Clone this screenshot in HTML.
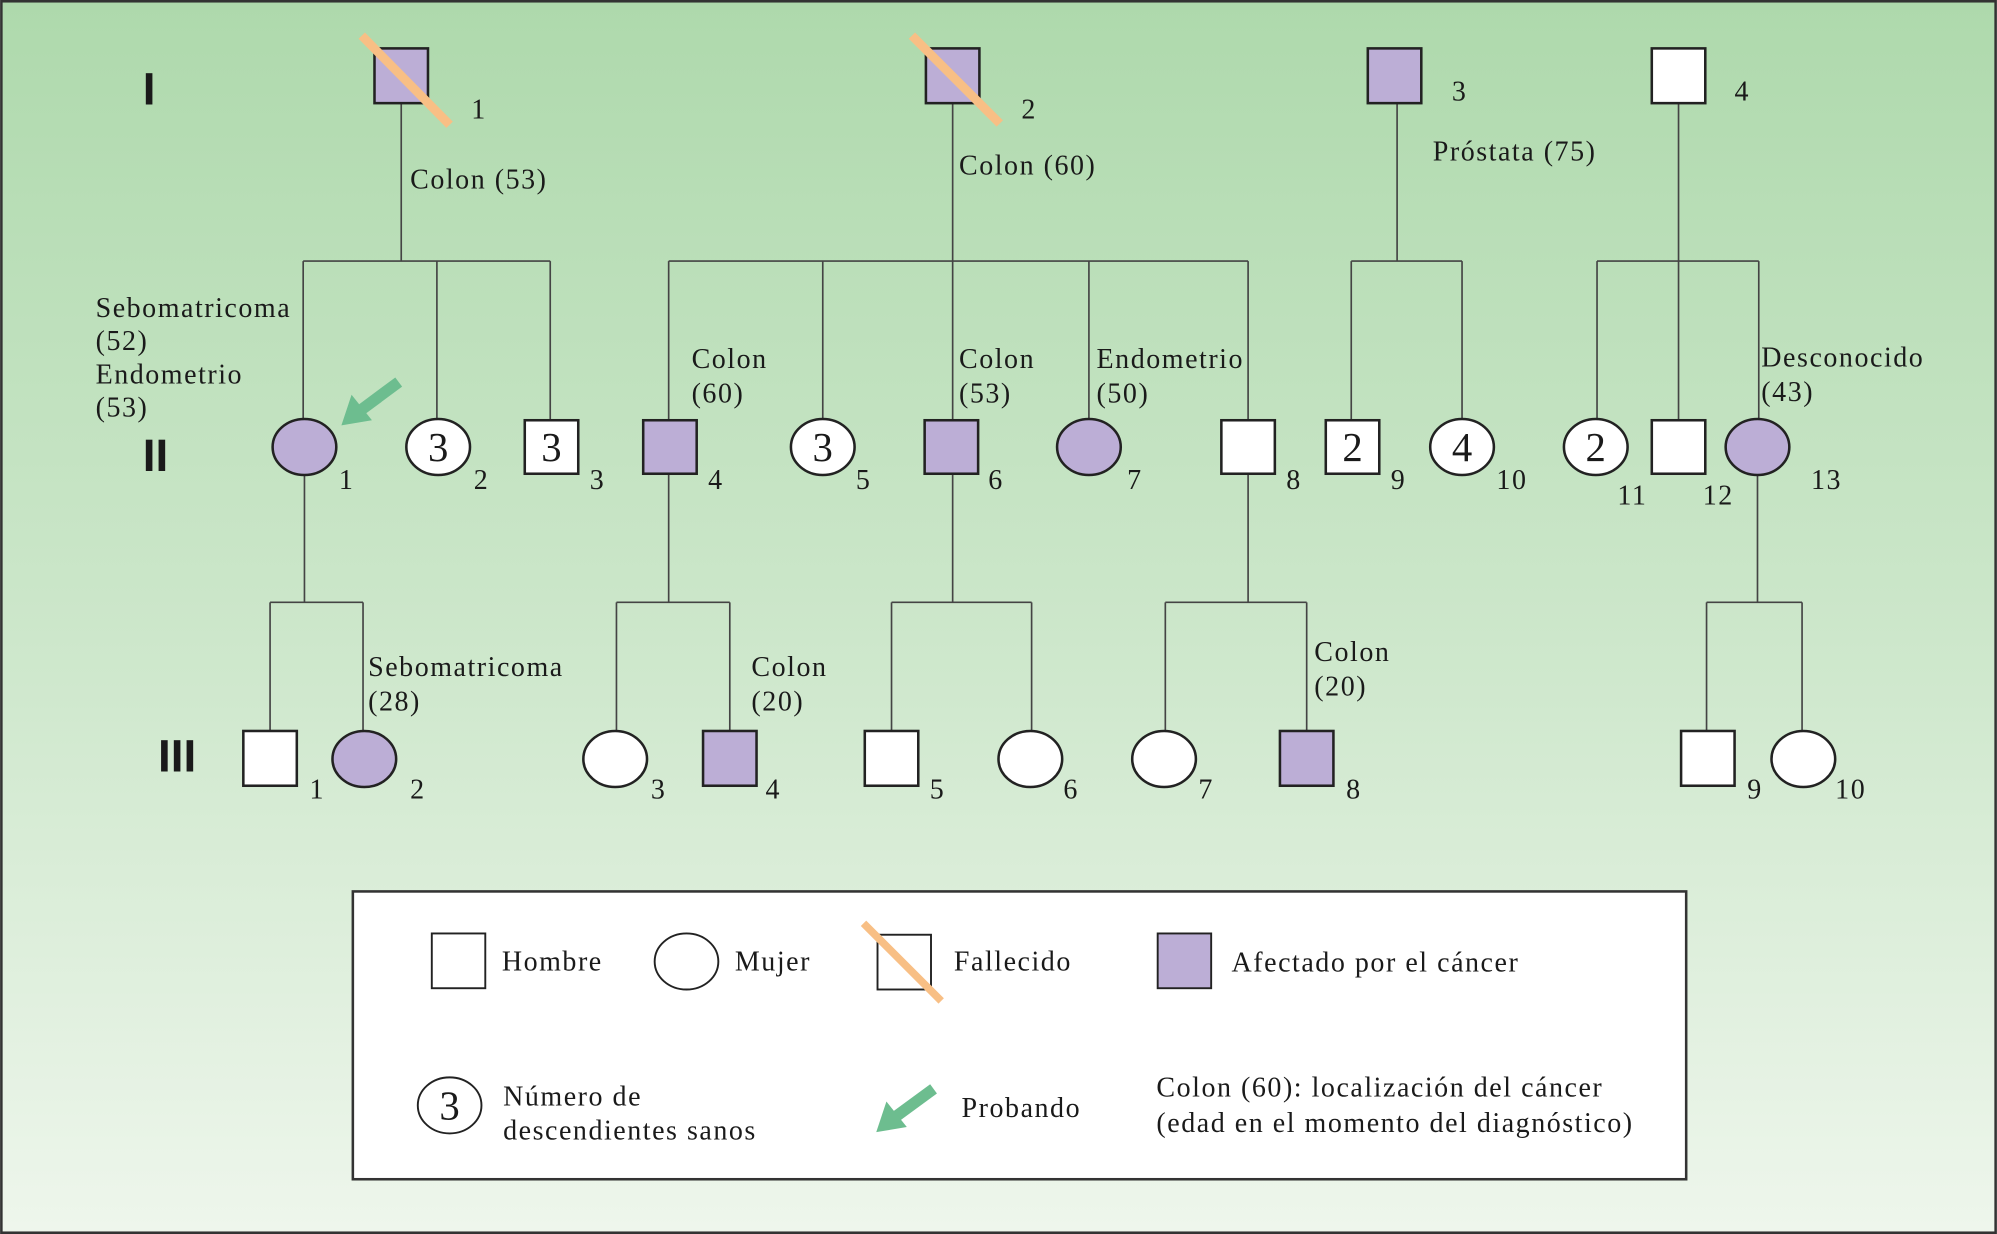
<!DOCTYPE html>
<html><head><meta charset="utf-8"><style>
html,body{margin:0;padding:0;width:1997px;height:1234px;overflow:hidden;background:#fff}
svg{display:block}
text{font-family:"Liberation Serif",serif;font-size:22px;fill:#1a1a1a;letter-spacing:1.2px}
.big{font-size:32px;letter-spacing:0}
.rom{font-family:"Liberation Sans",sans-serif;font-weight:bold;font-size:36px;letter-spacing:0}
</style></head><body>
<svg width="1997" height="1234" viewBox="0 0 1568 969" xmlns="http://www.w3.org/2000/svg">
<defs><linearGradient id="g" x1="0" y1="0" x2="0" y2="1">
<stop offset="0" stop-color="#aed9ac"/><stop offset="0.55" stop-color="#cfe8cd"/><stop offset="1" stop-color="#eef6ec"/></linearGradient></defs>
<rect x="1" y="1" width="1566" height="967" fill="url(#g)" stroke="#333" stroke-width="2"/>
<g stroke="#444" stroke-width="1.3" fill="none">
<path d="M315 81V205M238 205H432M238 205V330M343 205V330M432 205V330"/>
<path d="M748 81V205M525 205H980M525 205V330M646 205V330M748 205V330M855 205V330M980 205V330"/>
<path d="M1097 81V205M1061 205H1148M1061 205V330M1148 205V330"/>
<path d="M1318 81V205M1254 205H1381M1254 205V330M1318 205V330M1381 205V330"/>
<path d="M239 373V473M212 473H285M212 473V574M285 473V575"/>
<path d="M525 372V473M484 473H573M484 473V575M573 473V574"/>
<path d="M748 372V473M700 473H810M700 473V574M810 473V575"/>
<path d="M980 372V473M915 473H1026M915 473V575M1026 473V574"/>
<path d="M1380 373V473M1340 473H1415M1340 473V574M1415 473V575"/>
</g>
<g stroke="#222" stroke-width="2">
<rect x="294" y="38" width="42" height="43" fill="#bcaed6"/>
<rect x="727" y="38" width="42" height="43" fill="#bcaed6"/>
<rect x="1074" y="38" width="42" height="43" fill="#bcaed6"/>
<rect x="1297" y="38" width="42" height="43" fill="#fff"/>
<ellipse cx="239" cy="351" rx="25" ry="22" fill="#bcaed6"/>
<ellipse cx="344" cy="351" rx="25" ry="22" fill="#fff"/>
<rect x="412" y="330" width="42" height="42" fill="#fff"/>
<rect x="505" y="330" width="42" height="42" fill="#bcaed6"/>
<ellipse cx="646" cy="351" rx="25" ry="22" fill="#fff"/>
<rect x="726" y="330" width="42" height="42" fill="#bcaed6"/>
<ellipse cx="855" cy="351" rx="25" ry="22" fill="#bcaed6"/>
<rect x="959" y="330" width="42" height="42" fill="#fff"/>
<rect x="1041" y="330" width="42" height="42" fill="#fff"/>
<ellipse cx="1148" cy="351" rx="25" ry="22" fill="#fff"/>
<ellipse cx="1253" cy="351" rx="25" ry="22" fill="#fff"/>
<rect x="1297" y="330" width="42" height="42" fill="#fff"/>
<ellipse cx="1380" cy="351" rx="25" ry="22" fill="#bcaed6"/>
<rect x="191" y="574" width="42" height="43" fill="#fff"/>
<ellipse cx="286" cy="596" rx="25" ry="22" fill="#bcaed6"/>
<ellipse cx="483" cy="596" rx="25" ry="22" fill="#fff"/>
<rect x="552" y="574" width="42" height="43" fill="#bcaed6"/>
<rect x="679" y="574" width="42" height="43" fill="#fff"/>
<ellipse cx="809" cy="596" rx="25" ry="22" fill="#fff"/>
<ellipse cx="914" cy="596" rx="25" ry="22" fill="#fff"/>
<rect x="1005" y="574" width="42" height="43" fill="#bcaed6"/>
<rect x="1320" y="574" width="42" height="43" fill="#fff"/>
<ellipse cx="1416" cy="596" rx="25" ry="22" fill="#fff"/>
</g>
<g stroke="#f8bf85" stroke-width="7">
<line x1="284" y1="28" x2="353" y2="98"/>
<line x1="716" y1="28" x2="785" y2="97"/>
</g>
<line x1="313" y1="300" x2="282" y2="323" stroke="#6dbd8f" stroke-width="9"/>
<polygon points="268,334 276,310 292,330" fill="#6dbd8f"/>
<text x="112" y="82" class="rom">I</text>
<text x="112" y="370" class="rom">II</text>
<text x="124" y="606" class="rom">III</text>
<text x="370" y="93">1</text><text x="802" y="93">2</text><text x="1140" y="79">3</text><text x="1362" y="79">4</text>
<text x="322" y="148">Colon (53)</text>
<text x="753" y="137">Colon (60)</text>
<text x="1125" y="126">Próstata (75)</text>
<text x="75" y="249">Sebomatricoma</text><text x="75" y="275">(52)</text><text x="75" y="301">Endometrio</text><text x="75" y="327">(53)</text>
<text x="543" y="289">Colon</text><text x="543" y="316">(60)</text>
<text x="753" y="289">Colon</text><text x="753" y="316">(53)</text>
<text x="861" y="289">Endometrio</text><text x="861" y="316">(50)</text>
<text x="1383" y="288">Desconocido</text><text x="1383" y="315">(43)</text>
<g text-anchor="middle">
<text x="344" y="362" class="big">3</text><text x="433" y="362" class="big">3</text><text x="646" y="362" class="big">3</text>
<text x="1062" y="362" class="big">2</text><text x="1148" y="362" class="big">4</text><text x="1253" y="362" class="big">2</text>
</g>
<text x="266" y="384">1</text><text x="372" y="384">2</text><text x="463" y="384">3</text><text x="556" y="384">4</text>
<text x="672" y="384">5</text><text x="776" y="384">6</text><text x="885" y="384">7</text><text x="1010" y="384">8</text>
<text x="1092" y="384">9</text><text x="1175" y="384">10</text><text x="1270" y="396">11</text><text x="1337" y="396">12</text><text x="1422" y="384">13</text>
<text x="289" y="531">Sebomatricoma</text><text x="289" y="558">(28)</text>
<text x="590" y="531">Colon</text><text x="590" y="558">(20)</text>
<text x="1032" y="519">Colon</text><text x="1032" y="546">(20)</text>
<text x="243" y="627">1</text><text x="322" y="627">2</text><text x="511" y="627">3</text><text x="601" y="627">4</text>
<text x="730" y="627">5</text><text x="835" y="627">6</text><text x="941" y="627">7</text><text x="1057" y="627">8</text>
<text x="1372" y="627">9</text><text x="1441" y="627">10</text>
<rect x="277" y="700" width="1047" height="226" fill="#fff" stroke="#333" stroke-width="2"/>
<g stroke="#222" stroke-width="1.5">
<rect x="339" y="733" width="42" height="43" fill="#fff"/>
<ellipse cx="539" cy="755" rx="25" ry="22" fill="#fff"/>
<rect x="689" y="734" width="42" height="43" fill="#fff"/>
<rect x="909" y="733" width="42" height="43" fill="#bcaed6"/>
<ellipse cx="353" cy="868" rx="25" ry="22" fill="#fff"/>
</g>
<line x1="678" y1="725" x2="739" y2="786" stroke="#f8bf85" stroke-width="6"/>
<line x1="733" y1="855" x2="703" y2="877" stroke="#6dbd8f" stroke-width="9"/>
<polygon points="688,889 696,865 712,885" fill="#6dbd8f"/>
<text x="394" y="762">Hombre</text><text x="577" y="762">Mujer</text><text x="749" y="762">Fallecido</text>
<text x="967" y="763">Afectado por el cáncer</text>
<text x="353" y="879" text-anchor="middle" class="big">3</text>
<text x="395" y="868">Número de</text><text x="395" y="895">descendientes sanos</text>
<text x="755" y="877">Probando</text>
<text x="908" y="861">Colon (60): localización del cáncer</text>
<text x="908" y="889">(edad en el momento del diagnóstico)</text>
</svg>
</body></html>
